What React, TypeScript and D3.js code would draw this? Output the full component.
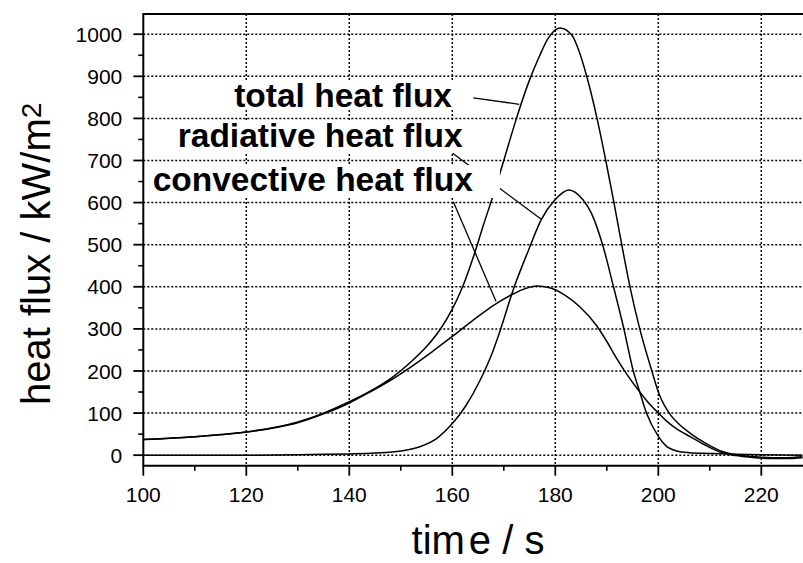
import React from 'react';
import * as d3 from 'd3';

// ---- data ----
const totalT = [100,110,120,130,135,140,146,148,152,155,157.6,160,162,164.2,166,168,170,172.2,174.8,177,178.6,180.9,183.2,184.6,186.1,188.1,189.8,191.3,192.9,194.5,196.4,198.7,200.1,202.4,204,206.2,209.4,212.6,215,218,222,225,228];
const totalV = [37,44,55,79,100,127,166,182,222,258,298,347,400,475,545,620,700,790,885,950,990,1015,998,960,900,800,700,606,500,400,300,202,147,95,74,52,27,8,1,-3,-6,-6,-4];

const radT = [100,110,120,130,135,140,145,150,153.7,157,160,162.5,165.4,167.5,169.4,171.8,174.8,177.3,179.9,182.6,185.4,187,189.3,191.3,193.3,195.1,196.4,197.7,200.1,201.5,203.6,206,210,215,220,228];
const radV = [0,0,0,1,2,3,5,10,20,40,75,115,178,235,300,392,487,560,606,630,606,575,495,400,301,202,150,100,43,22,10,6,4,2,1,0];

const convT = [100,105,110,115,120,125,130,135,140,144,148,152,156,160,164,168,172,174,176.4,178,180,182,184.8,188,190,192,194,196.4,198,200.1,201.5,203.5,206.2,209.4,212.6,215,218,222,225,228];
const convV = [37,40,44,49,55,64,77,98,124,150,178,210,245,282,320,356,384,395,402,400,393,379,352,308,270,228,190,150,126,99,82,63,44,22,5,-1,-5,-8,-8,-6];

const xTicks = [100,120,140,160,180,200,220];
const xMinor = [110,130,150,170,190,210];
const yTicks = [0,100,200,300,400,500,600,700,800,900,1000];
const yMinor = [50,150,250,350,450,550,650,750,850,950];

// labels: text, anchor (end) point in data units, leader from/to in data units
const labelNames = ['total heat flux', 'radiative heat flux', 'convective heat flux'];
const labelAt = [[159.94, 827], [162.0, 731], [164.0, 627.5]];
const leaderFrom = [[164.08, 849], [160.08, 717], [160.2, 602]];
const leaderTo = [[173.0, 833.5], [177.2, 561], [168.5, 365]];

const W = 803, H = 563;
const x = d3.scaleLinear().domain([100, 228]).range([143.3, 802.5]);
const y = d3.scaleLinear().domain([-25, 1048]).range([465.7, 14]);

const FONT = '"Liberation Sans", Arial, sans-serif';

function mk(ts: number[], vs: number[]) {
  const pts = ts.map((t, i) => [t, vs[i]] as [number, number]);
  return d3.line<[number, number]>().x(d => x(d[0])).y(d => y(d[1])).curve(d3.curveMonotoneX)(pts) || '';
}

// box paddings (left edge right of axis, right edge beyond text end)
const boxRightPad = [18, 5, 27];
const boxTop = [27, 27, 26];
const boxBottom = [3, 4.5, 7];

export default function App() {
  const [x0, x1] = x.range();
  const [y0, y1] = [y.range()[1], y.range()[0]];
  return (
    <svg width={W} height={H} style={{ position: 'absolute', left: 0, top: 0, background: '#fff' }}>
      <defs>
        <clipPath id="plot">
          <rect x={x0} y={y0} width={x1 - x0 + 1} height={y1 - y0} />
        </clipPath>
      </defs>
      <rect x={0} y={0} width={W} height={H} fill="#fff" />
      {/* grid */}
      <g stroke="#000" strokeWidth={1.5} strokeDasharray="2,2">
        {yTicks.map(v => (
          <line key={'gy' + v} x1={x0} x2={x1 + 1} y1={y(v)} y2={y(v)} />
        ))}
        {xTicks.filter(t => t > 100).map(t => (
          <line key={'gx' + t} x1={x(t)} x2={x(t)} y1={y0} y2={y1} />
        ))}
      </g>
      {/* curves */}
      <g clipPath="url(#plot)" fill="none" stroke="#000" strokeWidth={1.5}>
        <path d={mk(convT, convV)} />
        <path d={mk(radT, radV)} />
        <path d={mk(totalT, totalV)} />
      </g>
      {/* leaders */}
      <g stroke="#000" strokeWidth={1.3}>
        {leaderFrom.map((f, i) => (
          <line key={'ld' + i} x1={x(f[0])} y1={y(f[1])} x2={x(leaderTo[i][0])} y2={y(leaderTo[i][1])} />
        ))}
      </g>
      {/* label boxes and text */}
      {labelNames.map((s, i) => {
        const lx = x(labelAt[i][0]);
        const ly = y(labelAt[i][1]);
        return (
          <g key={'lb' + i}>
            <rect x={x0 + 2} y={ly - boxTop[i]} width={lx + boxRightPad[i] - x0 - 2} height={boxTop[i] + boxBottom[i]} fill="#fff" />
            <text x={lx} y={ly} textAnchor="end" fontFamily={FONT} fontWeight="bold" fontSize={33.5} fill="#000">{s}</text>
          </g>
        );
      })}
      {/* axes */}
      <g stroke="#000">
        <line x1={x0} x2={x1 + 1} y1={y0} y2={y0} strokeWidth={2} />
        <line x1={x0} x2={x1 + 1} y1={y1} y2={y1} strokeWidth={2} />
        <line x1={x0} x2={x0} y1={y0 - 1} y2={y1 + 1} strokeWidth={2} />
        {yTicks.map(v => (
          <line key={'ty' + v} x1={x0 - 10} x2={x0} y1={y(v)} y2={y(v)} strokeWidth={1.8} />
        ))}
        {yMinor.map(v => (
          <line key={'tym' + v} x1={x0 - 5} x2={x0} y1={y(v)} y2={y(v)} strokeWidth={1.6} />
        ))}
        {xTicks.map(t => (
          <line key={'tx' + t} x1={x(t)} x2={x(t)} y1={y1} y2={y1 + 10} strokeWidth={1.8} />
        ))}
        {xMinor.map(t => (
          <line key={'txm' + t} x1={x(t)} x2={x(t)} y1={y1} y2={y1 + 5} strokeWidth={1.6} />
        ))}
      </g>
      <g fontFamily={FONT} fontSize={21} fill="#000">
        {yTicks.map(v => (
          <text key={'ly' + v} x={x0 - 21} y={y(v)} dy="0.36em" textAnchor="end">{v}</text>
        ))}
        {xTicks.map(t => (
          <text key={'lx' + t} x={x(t)} y={502} textAnchor="middle">{t}</text>
        ))}
      </g>
      <text x={478} y={554} textAnchor="middle" fontFamily={FONT} fontSize={40} fill="#000">
        tim<tspan dx={4}>e / s</tspan>
      </text>
      <text transform="translate(50,405) rotate(-90)" fontFamily={FONT} fontSize={40} fill="#000">
        heat flux / kW/m<tspan fontSize={28} dy={-9}>2</tspan>
      </text>
    </svg>
  );
}
